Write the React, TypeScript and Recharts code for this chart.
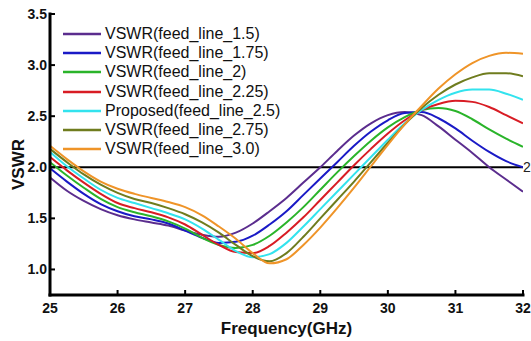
import { LineChart, Line, XAxis, YAxis, ReferenceLine, Legend } from 'recharts'

const FONT = 'Arial, "Liberation Sans", Helvetica, sans-serif'

// frequency in GHz, 0.25 steps
const freq = [
  25, 25.25, 25.5, 25.75, 26, 26.25, 26.5, 26.75, 27, 27.25, 27.5, 27.75, 28, 28.25, 28.5,
  28.75, 29, 29.25, 29.5, 29.75, 30, 30.25, 30.5, 30.75, 31, 31.25, 31.5, 31.75, 32,
]

const feed15 = [
  1.9, 1.77, 1.67, 1.59, 1.53, 1.49, 1.46, 1.43, 1.38, 1.34, 1.32, 1.36, 1.45, 1.57, 1.7,
  1.85, 2.0, 2.16, 2.31, 2.43, 2.51, 2.54, 2.51, 2.4, 2.27, 2.14, 2.0, 1.88, 1.76,
]
const feed175 = [
  1.99, 1.86, 1.74, 1.64, 1.57, 1.52, 1.49, 1.45, 1.38, 1.31, 1.26, 1.27, 1.33, 1.44, 1.57,
  1.73, 1.89, 2.05, 2.21, 2.35, 2.46, 2.53, 2.54, 2.48, 2.38, 2.26, 2.15, 2.06, 2.0,
]
const feed2 = [
  2.05, 1.92, 1.8, 1.69, 1.61, 1.56, 1.52, 1.47, 1.4, 1.31, 1.24, 1.21, 1.24, 1.33, 1.46,
  1.61, 1.78, 1.95, 2.11, 2.26, 2.39, 2.49, 2.56, 2.58, 2.55, 2.47, 2.37, 2.28, 2.2,
]
const feed225 = [
  2.1, 1.97, 1.85, 1.74, 1.65, 1.6, 1.56, 1.51, 1.44, 1.34, 1.24, 1.17, 1.16, 1.23, 1.36,
  1.51, 1.68, 1.85, 2.02, 2.18, 2.33, 2.46, 2.56, 2.62, 2.65, 2.64, 2.59, 2.51, 2.43,
]
const feed25 = [
  2.15, 2.01, 1.89, 1.78, 1.7, 1.65, 1.6, 1.55, 1.49, 1.4, 1.29, 1.18, 1.12, 1.15, 1.26,
  1.42, 1.59, 1.76, 1.93, 2.1, 2.27, 2.43, 2.56, 2.66, 2.73, 2.76, 2.76, 2.72, 2.66,
]
const feed275 = [
  2.18, 2.05, 1.93, 1.83, 1.75, 1.69, 1.65, 1.6, 1.54, 1.46, 1.36, 1.24, 1.13, 1.08, 1.16,
  1.32, 1.5, 1.68, 1.86, 2.05, 2.24, 2.42, 2.58, 2.71, 2.81, 2.88, 2.92, 2.92, 2.89,
]
const feed3 = [
  2.21, 2.08, 1.96, 1.86, 1.79, 1.74, 1.7, 1.66, 1.61, 1.53, 1.42, 1.3, 1.16, 1.06, 1.1,
  1.24, 1.41, 1.6, 1.8, 2.01, 2.22, 2.42, 2.6, 2.77, 2.91, 3.02, 3.09, 3.12, 3.11,
]

const xTicks = [25, 26, 27, 28, 29, 30, 31, 32]
const yTicks = [1.0, 1.5, 2.0, 2.5, 3.0, 3.5]
const innerXTicks = [26, 27, 28, 29, 30, 31]
const rightTicks = [1.0, 1.5, 2.5, 3.0]

const series = [
  { key: 'f15', name: 'VSWR(feed_line_1.5)', color: '#5b2d8e', values: feed15 },
  { key: 'f175', name: 'VSWR(feed_line_1.75)', color: '#1a1ac6', values: feed175 },
  { key: 'f2', name: 'VSWR(feed_line_2)', color: '#2ab42a', values: feed2 },
  { key: 'f225', name: 'VSWR(feed_line_2.25)', color: '#d81c24', values: feed225 },
  { key: 'f25', name: 'Proposed(feed_line_2.5)', color: '#33e3ee', values: feed25 },
  { key: 'f275', name: 'VSWR(feed_line_2.75)', color: '#6f7c1e', values: feed275 },
  { key: 'f3', name: 'VSWR(feed_line_3.0)', color: '#ef9428', values: feed3 },
]

const data = freq.map((f, i) => {
  const row: Record<string, number> = { f }
  series.forEach((s) => {
    row[s.key] = s.values[i]
  })
  return row
})

function BottomTick({ x, y, payload }: any) {
  return (
    <g>
      <line x1={x} x2={x} y1={y} y2={y - 5} stroke="#000" strokeWidth={2} />
      <text x={x} y={y + 18} textAnchor="middle" fontSize={14} fontWeight="bold" fontFamily={FONT} fill="#111">
        {payload.value}
      </text>
    </g>
  )
}

function LeftTick({ x, y, payload }: any) {
  return (
    <g>
      <line x1={x} x2={x + 5} y1={y} y2={y} stroke="#000" strokeWidth={2} />
      <text x={x - 3} y={y + 5} textAnchor="end" fontSize={14} fontWeight="bold" fontFamily={FONT} fill="#111">
        {Number(payload.value).toFixed(1)}
      </text>
    </g>
  )
}

function TopTick({ x, y }: any) {
  return <line x1={x} x2={x} y1={y} y2={y + 5} stroke="#000" strokeWidth={2} />
}

function RightTick({ x, y }: any) {
  return <line x1={x} x2={x - 5} y1={y} y2={y} stroke="#000" strokeWidth={2} />
}

function LegendBox() {
  return (
    <div style={{ fontFamily: FONT, fontSize: 16, color: '#111' }}>
      {series.map((s) => (
        <div key={s.key} style={{ display: 'flex', alignItems: 'center', height: 19.2, whiteSpace: 'nowrap' }}>
          <svg width={38} height={4} style={{ marginRight: 4 }}>
            <line x1={0} x2={38} y1={2} y2={2} stroke={s.color} strokeWidth={2.5} />
          </svg>
          <span>{s.name}</span>
        </div>
      ))}
    </div>
  )
}

export default function App() {
  return (
    <div style={{ position: 'absolute', left: 0, top: 0, background: '#fff' }}>
      <LineChart width={531} height={341} data={data} margin={{ top: 14, right: 8, bottom: 0, left: 0 }}>
        <XAxis
          dataKey="f"
          type="number"
          domain={[25, 32]}
          ticks={xTicks}
          interval={0}
          height={46}
          tickSize={0}
          tickMargin={0}
          tickLine={false}
          tick={<BottomTick />}
          axisLine={{ stroke: '#000', strokeWidth: 3, strokeLinecap: 'square' }}
          allowDataOverflow
          label={{
            content: (p: any) => {
              const vb = p.viewBox
              return (
                <text x={vb.x + vb.width / 2} y={vb.y + 39} textAnchor="middle" fontSize={17} fontWeight="bold" fontFamily={FONT} fill="#111">
                  Frequency(GHz)
                </text>
              )
            },
          }}
        />
        <XAxis
          xAxisId="top"
          orientation="top"
          dataKey="f"
          type="number"
          domain={[25, 32]}
          ticks={innerXTicks}
          interval={0}
          height={0}
          tickSize={0}
          tickMargin={0}
          tickLine={false}
          tick={<TopTick />}
          axisLine={{ stroke: '#000', strokeWidth: 2, strokeLinecap: 'square' }}
          allowDataOverflow
        />
        <YAxis
          type="number"
          domain={[0.75, 3.5]}
          ticks={yTicks}
          interval={0}
          width={50}
          tickSize={0}
          tickMargin={0}
          tickLine={false}
          tick={<LeftTick />}
          axisLine={{ stroke: '#000', strokeWidth: 3, strokeLinecap: 'square' }}
          allowDataOverflow
          label={{
            content: (p: any) => {
              const vb = p.viewBox
              const cx = 18
              const cy = vb.y + vb.height / 2 + 10
              return (
                <text
                  x={cx}
                  y={cy}
                  transform={`rotate(-90 ${cx} ${cy})`}
                  textAnchor="middle"
                  dominantBaseline="central"
                  fontSize={17}
                  fontWeight="bold"
                  fontFamily={FONT}
                  fill="#111"
                >
                  VSWR
                </text>
              )
            },
          }}
        />
        <YAxis
          yAxisId="right"
          orientation="right"
          type="number"
          domain={[0.75, 3.5]}
          ticks={rightTicks}
          interval={0}
          width={0}
          tickSize={0}
          tickMargin={0}
          tickLine={false}
          tick={<RightTick />}
          axisLine={{ stroke: '#000', strokeWidth: 2.5, strokeLinecap: 'square' }}
          allowDataOverflow
        />
        <ReferenceLine
          y={2}
          stroke="#000"
          strokeWidth={2}
          label={{ value: '2', position: 'right', offset: 0, fontSize: 14, fontFamily: FONT, fill: '#222' }}
        />
        <Legend
          verticalAlign="middle"
          align="center"
          layout="vertical"
          content={() => <LegendBox />}
          wrapperStyle={{ left: 63, top: 24.4, width: 'auto', height: 'auto' }}
        />
        {series.map((s) => (
          <Line
            key={s.key}
            dataKey={s.key}
            name={s.name}
            type="monotone"
            stroke={s.color}
            strokeWidth={2}
            dot={false}
            activeDot={false}
            isAnimationActive={false}
          />
        ))}
      </LineChart>
    </div>
  )
}
